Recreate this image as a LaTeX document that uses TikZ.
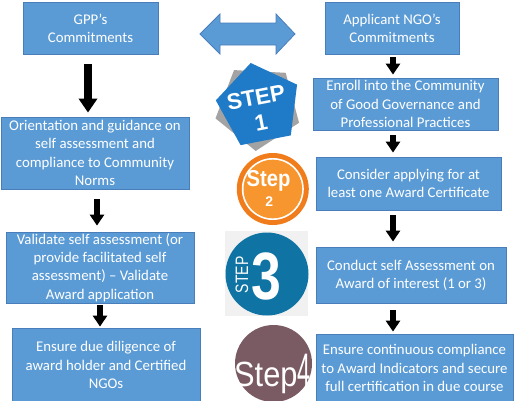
\documentclass[tikz,border=0pt]{standalone}
\usepackage{fontspec}
\usepackage{graphicx}
\setmainfont{Carlito}
\newfontfamily\arialf{Liberation Sans}
\usetikzlibrary{arrows.meta,shapes.geometric,calc}
\definecolor{boxfill}{HTML}{5B9BD5}
\definecolor{boxline}{HTML}{4A7EBB}
\definecolor{stepone}{HTML}{1F7BC8}
\definecolor{stepgray}{HTML}{A3A3A3}
\definecolor{orangedark}{HTML}{F07C1B}
\definecolor{orangelight}{HTML}{F7952E}
\definecolor{stepthree}{HTML}{0F73A4}
\definecolor{stepfour}{HTML}{7A5B63}
\definecolor{checker}{HTML}{F1F1F1}
\begin{document}
\begin{tikzpicture}[x=1pt,y=-1pt,
  box/.style={draw=boxline, line width=0.8pt, fill=boxfill, text=white, align=center,
    inner sep=0pt, font=\fontsize{14.8}{18.2}\selectfont},
  blk/.style={line width=5.5pt, -{Triangle[length=11pt,width=14pt]}},
  bigblk/.style={line width=8pt, -{Triangle[length=14pt,width=18pt]}},
  steptxt/.style={text=white, inner sep=0pt}]
\useasboundingbox (0,0) rectangle (530,400);
\clip (0,0) rectangle (530,400);

% boxes
\node[box, minimum width=135pt, minimum height=52pt] (gpp) at (90.5,28) {GPP’s\\Commitments};
\node[box, minimum width=134pt, minimum height=52pt] (app) at (392,28) {Applicant NGO’s\\Commitments};
\node[box, minimum width=188pt, minimum height=72pt] (orient) at (95,153) {Orientation and guidance on\\self assessment and\\compliance to Community\\Norms};
\node[box, minimum width=185pt, minimum height=52pt] (enroll) at (405.5,104) {Enroll into the Community\\of Good Governance and\\Professional Practices};
\node[box, minimum width=185pt, minimum height=53pt] (consider) at (408.5,183.5) {Consider applying for at\\least one Award Certificate};
\node[box, minimum width=188pt, minimum height=71pt] (validate) at (100,267.5) {Validate self assessment (or\\provide facilitated self\\assessment) – Validate\\Award application};
\node[box, minimum width=190pt, minimum height=56pt] (conduct) at (411,275) {Conduct self Assessment on\\Award of interest (1 or 3)};
\node[box, minimum width=188pt, minimum height=74pt] (diligence) at (106,365) {Ensure due diligence of\\award holder and Certified\\NGOs};
\node[box, minimum width=197pt, minimum height=68pt] (continuous) at (414.5,368) {Ensure continuous compliance\\to Award Indicators and secure\\full certification in due course};

% double arrow between commitments
\filldraw[fill=boxfill, draw=boxline, line width=0.8pt]
  (200,34) -- (220,14) -- (220,23) -- (276,23) -- (276,14) -- (295,34)
  -- (276,54) -- (276,45) -- (220,45) -- (220,54) -- cycle;

% black arrows
\draw[bigblk] ([shift={(-2.5,10)}]gpp.south) -- ([shift={(-7,-4)}]orient.north);
\draw[blk] ([shift={(1,3)}]app.south) -- ([shift={(-12.5,-3)}]enroll.north);
\draw[blk] ([shift={(-12.5,5)}]enroll.south) -- ([shift={(-15.5,-4)}]consider.north);
\draw[blk] ([shift={(-15.5,5)}]consider.south) -- ([shift={(-18,-5)}]conduct.north);
\draw[blk] ([shift={(2,10)}]orient.south) -- ([shift={(-3,-6)}]validate.north);
\draw[blk] ([shift={(0,2)}]validate.south) -- ([shift={(-6,-1)}]diligence.north);
\draw[blk] ([shift={(-18,7)}]conduct.south) -- ([shift={(-21.5,-2)}]continuous.north);

% Step 1
\node[regular polygon, regular polygon sides=5, minimum size=88pt, inner sep=0pt,
  fill=stepgray, rotate=33] (s1back) at (258,107) {};
\node[regular polygon, regular polygon sides=5, minimum size=87pt, inner sep=0pt,
  fill=stepone, rotate=11] (s1) at (259,105.7) {};
\node[steptxt, rotate=11, align=center, font=\arialf\bfseries\fontsize{22.5}{26}\selectfont] (s1a) at (258.5,110) {STEP\\1};

% Step 2
\fill[orangedark] (272.8,189) circle[radius=36];
\fill[white] (272.8,189) circle[radius=31];
\fill[orangelight] (272.8,189) circle[radius=29.3];
\node[steptxt, anchor=base, font=\arialf\bfseries\fontsize{23}{23}\selectfont] (s2a) at (268.5,186.7) {\scalebox{0.88}[1]{Step}};
\node[steptxt, anchor=base, font=\arialf\bfseries\fontsize{14}{14}\selectfont] (s2b) at (269.3,206.7) {2};

% Step 3
\fill[checker] (225,231) rectangle (308,316);
\fill[stepthree] (267,274) circle[radius=41.5];
\node[steptxt, anchor=base, rotate=90, font=\arialf\fontsize{18}{18}\selectfont] (s3a) at (248,274.7) {\scalebox{0.78}[1]{STEP}};
\node[steptxt, anchor=base, font=\arialf\bfseries\fontsize{67}{67}\selectfont] (s3b) at (266.3,299.7) {\scalebox{0.8}[1]{3}};

% Step 4
\fill[stepfour] (273.5,363.5) circle[radius=38.5];
\node[steptxt, anchor=base west, font=\arialf\fontsize{35}{35}\selectfont] (s4) at (234,386.7)
  {\scalebox{0.88}[1]{Step}\fontsize{47}{47}\selectfont\scalebox{0.5}[1]{4}};
\end{tikzpicture}
\end{document}
